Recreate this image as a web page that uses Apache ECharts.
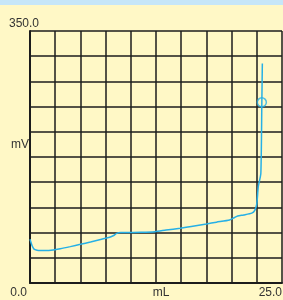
<!DOCTYPE html>
<html>
<head>
<meta charset="utf-8">
<script src="https://cdn.jsdelivr.net/npm/echarts@6/dist/echarts.min.js"></script>
<style>
  html, body { margin: 0; padding: 0; background: #fff8c6; }
  #chart { width: 283px; height: 300px; }
</style>
</head>
<body>
<div id="chart"></div>
<script>
// titration curve: volume added (mL) vs potential (mV)
const volumes = [0, 0.2, 0.4, 0.7, 1.0, 1.5, 2.3, 3.0, 4.0, 5.0, 6.0, 7.0, 7.9, 8.3, 8.6, 9.0,
  10.0, 11.0, 12.4, 13.5, 14.9, 16.0, 17.5, 18.5, 19.8, 20.3, 20.6, 21.2, 22.0, 22.3, 22.5,
  22.65, 22.9, 23.0, 23.05]
const potentials = [60.7, 52, 47, 45.5, 45, 45, 45.8, 47.5, 50.5, 53.7, 57, 60.5, 63.5, 66, 69, 70,
  70.2, 70.4, 71.3, 73.5, 76, 78.5, 82, 84.5, 87.5, 91, 93, 94.5, 97, 101, 110,
  134, 152, 251, 305]
// marked point on the curve
const markVolume = [23.0]
const markPotential = [251]

// axis tick labels that are shown
const xLabelValues = [0, 25]
const xLabelTexts = ['0.0', '25.0']
const yLabelValues = [350]
const yLabelTexts = ['350.0']

const chart = echarts.init(document.getElementById('chart'))

const textStyle = { color: '#333', fontSize: 12, fontFamily: 'Liberation Sans, Arial, sans-serif' }
const gridLine = { lineStyle: { color: '#1c1c1c', width: 1.5 } }

chart.setOption({
  backgroundColor: '#fff8c6',
  animation: false,
  graphic: [
    { type: 'rect', shape: { x: 0, y: 0, width: 283, height: 5 }, style: { fill: '#c6e6f8' } }
  ],
  grid: { left: 30, top: 31, width: 252, height: 252, containLabel: false, outerBoundsMode: 'none' },
  xAxis: {
    type: 'value',
    min: 0,
    max: 25,
    interval: 2.5,
    name: 'mL',
    nameLocation: 'middle',
    nameGap: 4,
    nameMoveOverlap: false,
    nameTextStyle: { ...textStyle, verticalAlign: 'top', padding: [0, 0, 0, 10] },
    axisLine: { show: true, onZero: false, lineStyle: { color: '#1c1c1c', width: 2 } },
    axisTick: { show: false },
    splitLine: { show: true, ...gridLine },
    axisLabel: {
      ...textStyle,
      margin: 4,
      verticalAlign: 'top',
      alignMinLabel: 'right',
      alignMaxLabel: 'right',
      formatter: (v) => {
        const i = xLabelValues.indexOf(v)
        if (i < 0) return ''
        return i === 0 ? '{first|' + xLabelTexts[i] + '}' : xLabelTexts[i]
      },
      rich: { first: { ...textStyle, padding: [0, 3, 0, 0] } }
    }
  },
  yAxis: {
    type: 'value',
    min: 0,
    max: 350,
    interval: 35,
    name: 'mV',
    nameLocation: 'middle',
    nameRotate: 0,
    nameGap: 1,
    nameMoveOverlap: false,
    nameTextStyle: { ...textStyle, align: 'right', verticalAlign: 'bottom', lineHeight: 24 },
    axisLine: { show: true, lineStyle: { color: '#1c1c1c', width: 2 } },
    axisTick: { show: false },
    splitLine: { show: true, ...gridLine },
    axisLabel: {
      ...textStyle,
      align: 'left',
      margin: 21,
      verticalAlign: 'bottom',
      lineHeight: 14,
      formatter: (v) => {
        const i = yLabelValues.indexOf(v)
        return i >= 0 ? yLabelTexts[i] : ''
      }
    }
  },
  series: [
    {
      type: 'line',
      data: volumes.map((v, i) => [v, potentials[i]]),
      showSymbol: false,
      smooth: 0.2,
      lineStyle: { color: '#26b0e6', width: 1.5 },
      z: 3
    },
    {
      type: 'scatter',
      data: markVolume.map((v, i) => [v, markPotential[i]]),
      symbol: 'circle',
      symbolSize: 9,
      itemStyle: { color: 'rgba(0,0,0,0)', borderColor: '#26b0e6', borderWidth: 1.5 },
      z: 4
    }
  ]
})
</script>
</body>
</html>
